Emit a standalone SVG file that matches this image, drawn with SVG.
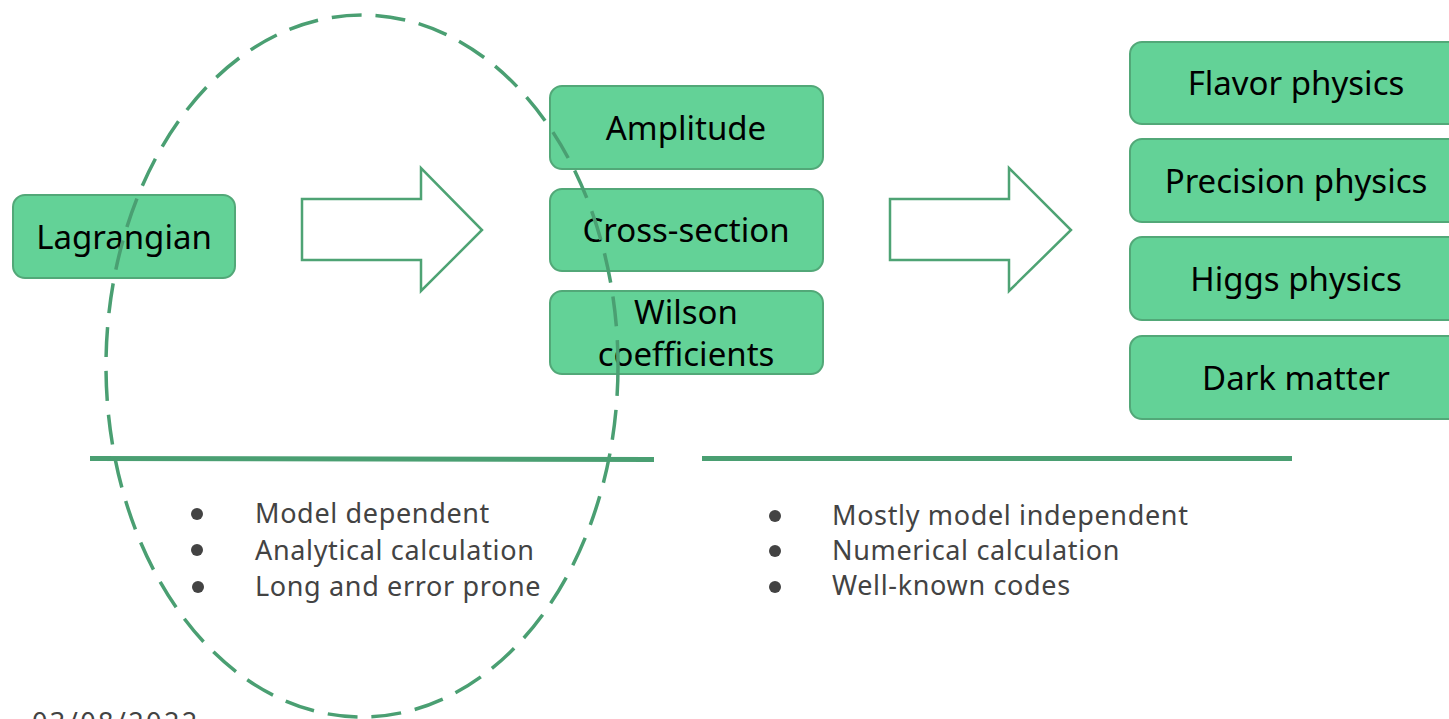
<svg xmlns="http://www.w3.org/2000/svg" width="1449" height="719" viewBox="0 0 1449 719">
<style>
.box{fill:#63d297;stroke:#52a878;stroke-width:2}
.lbl{font-family:"Noto Sans","Open Sans",sans-serif;font-size:33px;fill:#000;text-anchor:middle}
.arrow{fill:#fff;stroke:#4ea374;stroke-width:2.5;stroke-linejoin:miter}
.rule{stroke:#4a9f72;stroke-width:5}
.bul{font-family:"Noto Sans","Open Sans",sans-serif;font-size:27px;fill:#434343;letter-spacing:0.65px}
.dot{fill:#434343}
</style>
<rect width="1449" height="719" fill="#fff"/>
<g id="lagrangian"><rect class="box" x="13" y="195" width="222" height="83" rx="12"/><text class="lbl" x="124" y="249">Lagrangian</text></g>
<g id="amplitude"><rect class="box" x="550" y="86" width="273" height="83" rx="12"/><text class="lbl" x="686" y="140">Amplitude</text></g>
<g id="cross-section"><rect class="box" x="550" y="189" width="273" height="82" rx="12"/><text class="lbl" x="686" y="242">Cross-section</text></g>
<g id="wilson"><rect class="box" x="550" y="291" width="273" height="83" rx="12"/><text class="lbl" x="686" y="324">Wilson</text><text class="lbl" x="686" y="366">coefficients</text></g>
<g id="flavor"><rect class="box" x="1130" y="42" width="334" height="82" rx="12"/><text class="lbl" x="1296" y="95">Flavor physics</text></g>
<g id="precision"><rect class="box" x="1130" y="139" width="334" height="83" rx="12"/><text class="lbl" x="1296" y="193">Precision physics</text></g>
<g id="higgs"><rect class="box" x="1130" y="237" width="334" height="83" rx="12"/><text class="lbl" x="1296" y="291">Higgs physics</text></g>
<g id="darkmatter"><rect class="box" x="1130" y="336" width="334" height="83" rx="12"/><text class="lbl" x="1296" y="390">Dark matter</text></g>
<g id="connectors">
<polygon class="arrow" points="302,199 421,199 421,168 482,230 421,291 421,260 302,260"/>
<polygon class="arrow" points="890,199 1009,199 1009,168 1071,230 1009,291 1009,260 890,260"/>
<line class="rule" x1="90" y1="458.5" x2="654" y2="459.5"/>
<line class="rule" x1="702" y1="458.5" x2="1292" y2="458.5"/>
</g>
<g id="left-list">
<circle class="dot" cx="197" cy="514" r="6"/><circle class="dot" cx="197" cy="550" r="6"/><circle class="dot" cx="198" cy="587" r="6"/>
<text class="bul" x="255" y="523">Model dependent</text>
<text class="bul" x="255" y="560">Analytical calculation</text>
<text class="bul" x="255" y="596">Long and error prone</text>
</g>
<g id="right-list">
<circle class="dot" cx="775" cy="516" r="6"/><circle class="dot" cx="775" cy="551" r="6"/><circle class="dot" cx="775" cy="587" r="6"/>
<text class="bul" x="832" y="525">Mostly model independent</text>
<text class="bul" x="832" y="560">Numerical calculation</text>
<text class="bul" x="832" y="595">Well-known codes</text>
</g>
<g id="scope">
<ellipse cx="362" cy="366" rx="256" ry="351" fill="none" stroke="#4a9f72" stroke-width="3.5" stroke-dasharray="30 14"/>
</g>
<text x="32" y="732" font-family="Noto Sans, sans-serif" font-size="27" letter-spacing="2.4" fill="#434343">03/08/2022</text>
</svg>
